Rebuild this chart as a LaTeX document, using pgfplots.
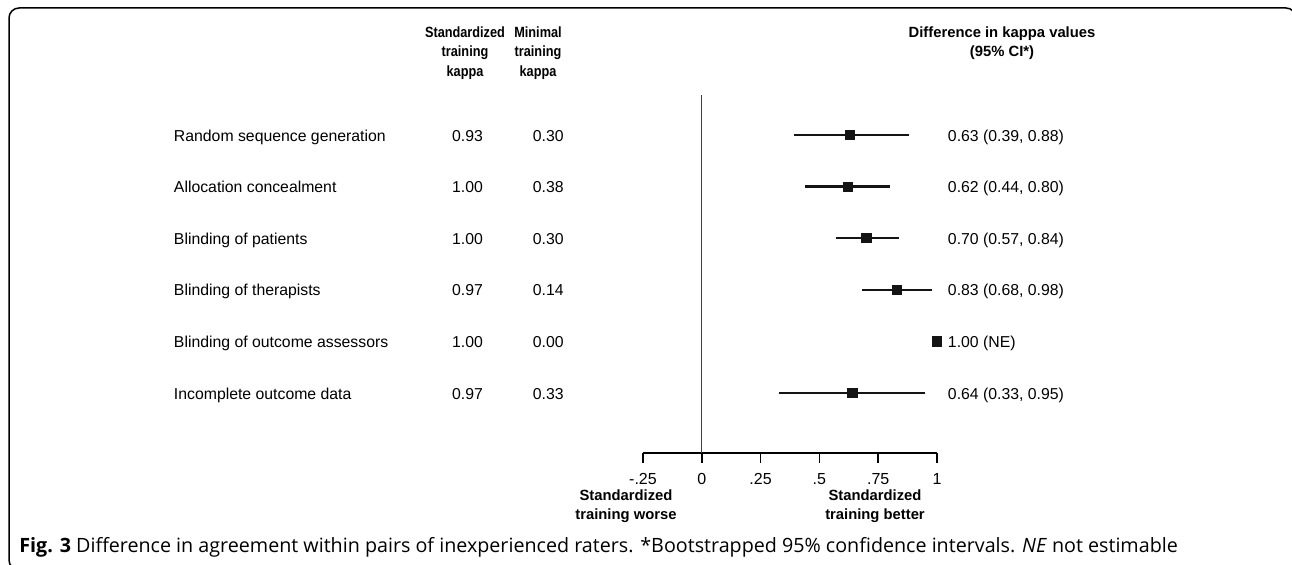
\documentclass[border=0pt]{standalone}
\usepackage{graphicx}
\usepackage{pgfplots}
\pgfplotsset{compat=1.18}
\usepackage{pgfplotstable}
\usepackage{fontspec}
\setmainfont{Liberation Sans}
\newfontfamily\capfont{Open Sans}

% kappa difference (standardized - minimal) with bootstrapped 95% CI
\pgfplotstableread{
row diff plus minus
1 0.63 0.25 0.24
2 0.62 0.18 0.18
3 0.70 0.14 0.13
4 0.83 0.15 0.15
5 1.00 0    0
6 0.64 0.31 0.31
}\forestdata

\tikzset{rowlbl/.style={inner sep=0pt, text height=1.45ex, text depth=0.3ex}}
\newcommand{\rowtext}[5]{%
  \node[rowlbl, anchor=west] at (axis cs:-2.2458,-#1) {#2};
  \node[rowlbl] at (axis cs:-0.9958,-#1) {#3};
  \node[rowlbl] at (axis cs:-0.6525,-#1) {#4};
  \node[rowlbl, anchor=west] at (axis cs:1.045,-#1) {#5};
}
\newcommand{\nar}[1]{\scalebox{0.86}[1]{#1}}

\begin{document}
\begin{tikzpicture}
\begin{scope}[x=0.5pt,y=-0.5pt]
\useasboundingbox (0,0) rectangle (1292,565);
\draw[line width=0.75pt, rounded corners=5pt] (9,8) rectangle (1296,570);
\end{scope}

\begin{axis}[
    at={(321.5pt,-226.5pt)}, anchor=south west,
    scale only axis,
    width=147pt, height=179pt,
    xmin=-0.25, xmax=1,
    ymin=-7.163, ymax=-0.225,
    axis x line*=bottom,
    axis y line=none,
    x axis line style={-, line width=0.75pt},
    xtick={-0.25,0,0.25,0.5,0.75,1},
    xticklabels={-.25,0,.25,.5,.75,1},
    tick align=outside,
    major tick length=5pt,
    tick style={black, line width=0.75pt},
    x tick label style={font=\fontsize{8}{9}\selectfont, yshift=-1.5pt},
    clip=false,
    font=\fontsize{7.9}{9.5}\selectfont,
]
\addplot[black!75, line width=0.6pt] coordinates {(0,-7.163) (0,-0.225)};
\addplot[only marks, mark=square*, mark size=2.3pt, black!92,
    error bars/.cd, x dir=both, x explicit,
    error mark=none, error bar style={line width=1.1pt, black!92}]
    table[x=diff, y expr=-\thisrow{row}, x error plus=plus, x error minus=minus]{\forestdata};

\rowtext{1}{Random sequence generation}{0.93}{0.30}{0.63 (0.39, 0.88)}
\rowtext{2}{Allocation concealment}{1.00}{0.38}{0.62 (0.44, 0.80)}
\rowtext{3}{Blinding of patients}{1.00}{0.30}{0.70 (0.57, 0.84)}
\rowtext{4}{Blinding of therapists}{0.97}{0.14}{0.83 (0.68, 0.98)}
\rowtext{5}{Blinding of outcome assessors}{1.00}{0.00}{1.00 (NE)}
\rowtext{6}{Incomplete outcome data}{0.97}{0.33}{0.64 (0.33, 0.95)}
\end{axis}

\begin{scope}[x=0.5pt,y=-0.5pt,font=\fontsize{7.4}{9.75}\selectfont\bfseries]
\node[align=center, anchor=north, inner sep=0pt] at (465,26) {\nar{Standardized}\\\nar{training}\\\nar{kappa}};
\node[align=center, anchor=north, inner sep=0pt] at (538,26) {\nar{Minimal}\\\nar{training}\\\nar{kappa}};
\node[align=center, anchor=north, inner sep=0pt] at (1002,26) {Difference in kappa values\\(95\% CI*)};
\node[align=center, anchor=north, inner sep=0pt] at (626,489) {Standardized\\training worse};
\node[align=center, anchor=north, inner sep=0pt] at (875,489) {Standardized\\training better};
\end{scope}
\node[anchor=base west, inner sep=0pt, font=\capfont\fontsize{9.85}{11}\selectfont] at (9.5pt,-276.5pt)
  {\textbf{Fig. 3} Difference in agreement within pairs of inexperienced raters. *Bootstrapped 95\% confidence intervals. \textit{NE} not estimable};
\end{tikzpicture}
\end{document}
